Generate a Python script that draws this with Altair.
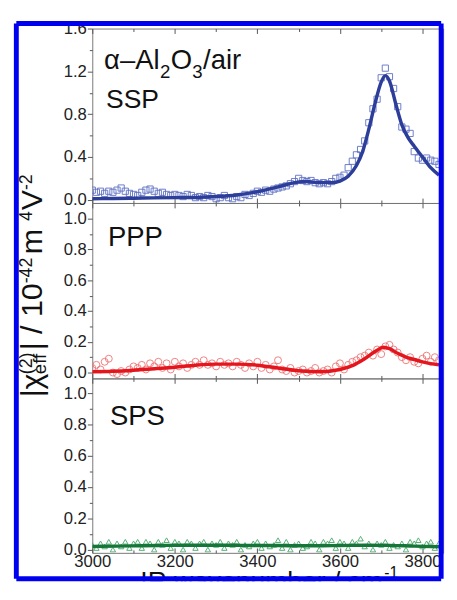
import altair as alt
import pandas as pd

# ---------------- data ----------------
WN = list(range(3000, 3850, 10))  # measurement grid, cm^-1

SSP_DATA = [0.09, 0.07, 0.08, 0.06, 0.08, 0.07, 0.09, 0.11, 0.08, 0.06,
            0.05, 0.04, 0.07, 0.09, 0.10, 0.08, 0.06, 0.07, 0.05, 0.04,
            0.05, 0.04, 0.03, 0.05, 0.04, 0.02, 0.03, 0.02, 0.04, 0.03,
            0.01, 0.02, 0.04, 0.02, 0.01, 0.03, 0.02, 0.05, 0.04, 0.06,
            0.08, 0.07, 0.09, 0.08, 0.10, 0.11, 0.12, 0.13, 0.15, 0.17,
            0.20, 0.18, 0.17, 0.18, 0.16, 0.15, 0.16, 0.15, 0.17, 0.20,
            0.21, 0.23, 0.30, 0.36, 0.42, 0.47, 0.55, 0.72, 0.85, 0.94,
            1.14, 1.23, 1.15, 1.04, 0.87, 0.68, 0.66, 0.62, 0.45, 0.39,
            0.37, 0.39, 0.37, 0.36, 0.33]

PPP_DATA = [0.03, 0.05, 0.02, 0.07, 0.09, 0.00, -0.01, 0.01, 0.00, 0.02,
            0.04, 0.03, 0.05, 0.02, 0.06, 0.04, 0.07, 0.03, 0.06, 0.02,
            0.07, 0.04, 0.06, 0.03, 0.05, 0.07, 0.05, 0.08, 0.05, 0.06,
            0.04, 0.07, 0.05, 0.06, 0.04, 0.07, 0.05, 0.03, 0.06, 0.04,
            0.07, 0.03, 0.05, 0.02, 0.04, 0.08, 0.02, 0.01, 0.03, 0.00,
            0.01, 0.02, 0.00, 0.01, 0.03, 0.00, 0.01, 0.02, 0.00, 0.04,
            0.06, 0.02, 0.05, 0.07, 0.08, 0.10, 0.11, 0.13, 0.11, 0.15,
            0.12, 0.17, 0.18, 0.15, 0.13, 0.10, 0.08, 0.10, 0.07, 0.06,
            0.09, 0.11, 0.07, 0.10, 0.08]

SPS_DATA = [0.03, 0.01, 0.04, 0.02, 0.05, 0.00, 0.04, 0.02, 0.05, 0.01,
            0.04, 0.05, 0.01, 0.05, 0.04, 0.00, 0.05, 0.03, 0.06, 0.01,
            0.05, 0.04, 0.00, 0.05, 0.04, 0.01, 0.04, 0.05, 0.00, 0.04,
            0.03, 0.05, 0.01, 0.04, 0.03, 0.05, 0.00, 0.03, 0.02, 0.04,
            0.05, 0.01, 0.04, 0.02, 0.03, 0.06, 0.01, 0.05, 0.00, 0.03,
            0.04, 0.01, 0.02, 0.05, 0.04, 0.00, 0.05, 0.04, 0.06, 0.01,
            0.05, 0.04, 0.01, 0.05, 0.04, 0.07, 0.02, 0.04, 0.00, 0.04,
            0.03, 0.05, 0.01, 0.03, 0.02, 0.04, 0.00, 0.05, 0.04, 0.06,
            0.02, 0.04, 0.05, 0.01, 0.04]

SSP_FIT_X = [3000, 3050, 3100, 3150, 3200, 3250, 3300, 3350, 3400, 3450, 3490, 3520,
             3550, 3580, 3600, 3620, 3640, 3655, 3670, 3685, 3700, 3710, 3720, 3735,
             3750, 3765, 3780, 3800, 3820, 3840]
SSP_FIT_Y = [0.010, 0.012, 0.015, 0.018, 0.020, 0.022, 0.030, 0.045, 0.075, 0.120, 0.160, 0.170,
             0.160, 0.160, 0.175, 0.220, 0.320, 0.450, 0.660, 0.900, 1.100, 1.160, 1.110, 0.900,
             0.700, 0.580, 0.500, 0.400, 0.300, 0.230]

PPP_FIT_X = [3000, 3050, 3100, 3150, 3200, 3250, 3300, 3350, 3400, 3450, 3500, 3550,
             3600, 3630, 3660, 3690, 3705, 3720, 3740, 3760, 3780, 3800, 3820, 3840]
PPP_FIT_Y = [0.005, 0.008, 0.015, 0.025, 0.035, 0.048, 0.055, 0.055, 0.048, 0.030, 0.012, 0.005,
             0.020, 0.045, 0.090, 0.145, 0.165, 0.155, 0.125, 0.100, 0.085, 0.070, 0.058, 0.050]

SPS_FIT_X = [3000, 3060, 3120, 3180, 3240, 3300, 3360, 3420, 3480, 3540, 3600, 3660, 3720, 3780, 3840]
SPS_FIT_Y = [0.020, 0.022, 0.025, 0.027, 0.028, 0.028, 0.027, 0.026, 0.025, 0.024, 0.026, 0.028,
             0.027, 0.022, 0.018]

X_DOMAIN = [3000, 3850]
X_MAJOR = [3000, 3200, 3400, 3600, 3800]
X_MINOR = [3100, 3300, 3500, 3700]

FONT = "Liberation Sans"
W = 358
XS = alt.Scale(domain=X_DOMAIN, nice=False, zero=False)


def one():
    return pd.DataFrame({"k": [0]})


def txt(s, x, y, size, angle=0, clip=False):
    props = dict(text=s, font=FONT, fontSize=size, color="#111", align="left",
                 baseline="alphabetic")
    if angle:
        props["angle"] = angle
    if clip:
        props["clip"] = True
    return alt.Chart(one()).mark_text(**props).encode(x=alt.value(x), y=alt.value(y))


def rule_v(x, y1, y2, color="#0000f0", w=5):
    return alt.Chart(one()).mark_rule(color=color, strokeWidth=w).encode(
        x=alt.value(x), y=alt.value(y1), y2=alt.value(y2))


def rule_h(y, x1, x2, color="#0000f0", w=5):
    return alt.Chart(one()).mark_rule(color=color, strokeWidth=w).encode(
        y=alt.value(y), x=alt.value(x1), x2=alt.value(x2))


AXIS_TEXT = dict(labelFont=FONT, labelFontSize=17, labelColor="#222",
                 labelFlush=False, labelOverlap=False, title=None,
                 domain=False, grid=False, ticks=True, tickColor="#555", tickWidth=1)


def carrier(ys, xaxis=None, yaxis=None):
    """invisible point that carries an axis for the panel's shared scales"""
    return alt.Chart(pd.DataFrame({"wn": [3000], "v": [0.0]})).mark_point(opacity=0).encode(
        x=alt.X("wn:Q", scale=XS, axis=xaxis),
        y=alt.Y("v:Q", scale=ys, axis=yaxis))


def x_carrier(orient, values, size, labels, ys):
    ax = alt.Axis(orient=orient, values=values, tickSize=size, labels=labels,
                  offset=-size, labelPadding=1, format="d", **AXIS_TEXT)
    return carrier(ys, xaxis=ax)


def y_carrier(values, size, labels, ys):
    ax = alt.Axis(orient="left", values=values, tickSize=size, labels=labels,
                  labelPadding=1, format=".1f", **AXIS_TEXT)
    return carrier(ys, yaxis=ax)


def panel(pts, fit_x, fit_y, ydom, h, ymaj, ymin, shape, pcolor, lcolor, psize,
          bottom_labels, extra):
    ys = alt.Scale(domain=ydom, nice=False, zero=False)
    pdf = pd.DataFrame({"wn": WN, "v": pts})
    fdf = pd.DataFrame({"wn": fit_x, "v": fit_y})
    points = alt.Chart(pdf).mark_point(shape=shape, filled=False, color=pcolor, size=psize,
                                       strokeWidth=1, clip=True, opacity=0.9).encode(
        x=alt.X("wn:Q", scale=XS, axis=None),
        y=alt.Y("v:Q", scale=ys, axis=None))
    line = alt.Chart(fdf).mark_line(color=lcolor, strokeWidth=3.5, clip=True,
                                    interpolate="monotone").encode(
        x=alt.X("wn:Q", scale=XS, axis=None),
        y=alt.Y("v:Q", scale=ys, axis=None))
    layers = [points, line,
              x_carrier("bottom", X_MAJOR, 5, bottom_labels, ys),
              x_carrier("bottom", X_MINOR, 3, False, ys),
              x_carrier("top", X_MAJOR, 5, False, ys),
              x_carrier("top", X_MINOR, 3, False, ys),
              y_carrier(ymaj, 5, True, ys),
              y_carrier(ymin, 3, False, ys)] + extra
    return alt.layer(*layers).resolve_axis(x="independent", y="independent").properties(
        width=W, height=h)


# panel 1 annotations (origin at plot top-left)
p1_extra = [
    txt("α–Al", 12, 41.5, 28),
    txt("2", 69, 50, 19),
    txt("O", 80, 41.5, 28),
    txt("3", 102, 50, 19),
    txt("/air", 113, 41.5, 28),
    txt("SSP", 14, 81, 27),
]
p2_extra = [txt("PPP", 16, 44, 28)]

# panel 3 annotations (origin = panel-3 plot top-left); rotated y title
p3_extra = [
    txt("SPS", 18, 48, 28),
    txt("|χ", -51, 19.3, 31, 270),
    txt("eff", -47, -4.3, 19, 270),
    txt("(2)", -62, -4.3, 18, 270),
    txt("| / 10", -51, -28.7, 31, 270),
    txt("-42", -62, -97.1, 18, 270),
    txt(" m", -51, -126.7, 31, 270),
    txt("4", -62, -160.7, 18, 270),
    txt("V", -51, -171.7, 31, 270),
    txt("-2", -62, -192.2, 18, 270),
]

p1 = panel(SSP_DATA, SSP_FIT_X, SSP_FIT_Y, [-0.03, 1.6], 178,
           [0, 0.4, 0.8, 1.2, 1.6], [0.2, 0.6, 1.0, 1.4],
           "square", "#5d70c4", "#2d3d9a", 40, False, p1_extra)
p2 = panel(PPP_DATA, PPP_FIT_X, PPP_FIT_Y, [-0.038, 1.102], 179,
           [0, 0.2, 0.4, 0.6, 0.8, 1.0], [0.1, 0.3, 0.5, 0.7, 0.9],
           "circle", "#ee7474", "#e3161e", 50, False, p2_extra)
p3 = panel(SPS_DATA, SPS_FIT_X, SPS_FIT_Y, [-0.021, 1.096], 178,
           [0, 0.2, 0.4, 0.6, 0.8, 1.0], [0.1, 0.3, 0.5, 0.7, 0.9],
           "triangle-up", "#45a766", "#16763a", 30, True, p3_extra)

# bottom strip: x-axis title (cut by the frame, as in the cropped figure) and the blue frame
p4 = alt.layer(
    txt("IR wavenumber / cm", 49, 37.6, 27, clip=True),
    txt("-1", 298, 26, 16, clip=True),
    rule_v(-77.5, -540.2, 26.5),
    rule_v(356, -540.2, 26.5),
    rule_h(-540.2, -77.5, 356),
    rule_h(26.5, -77.5, 356),
).properties(width=W, height=29, view=alt.ViewBackground(stroke="transparent"))

chart = alt.vconcat(p1, p2, p3, p4, spacing=0, bounds="flush").properties(
    padding=5
).configure_view(stroke="#777", strokeWidth=1)

chart.save("out.html", embed_options={"renderer": "svg", "actions": False})
